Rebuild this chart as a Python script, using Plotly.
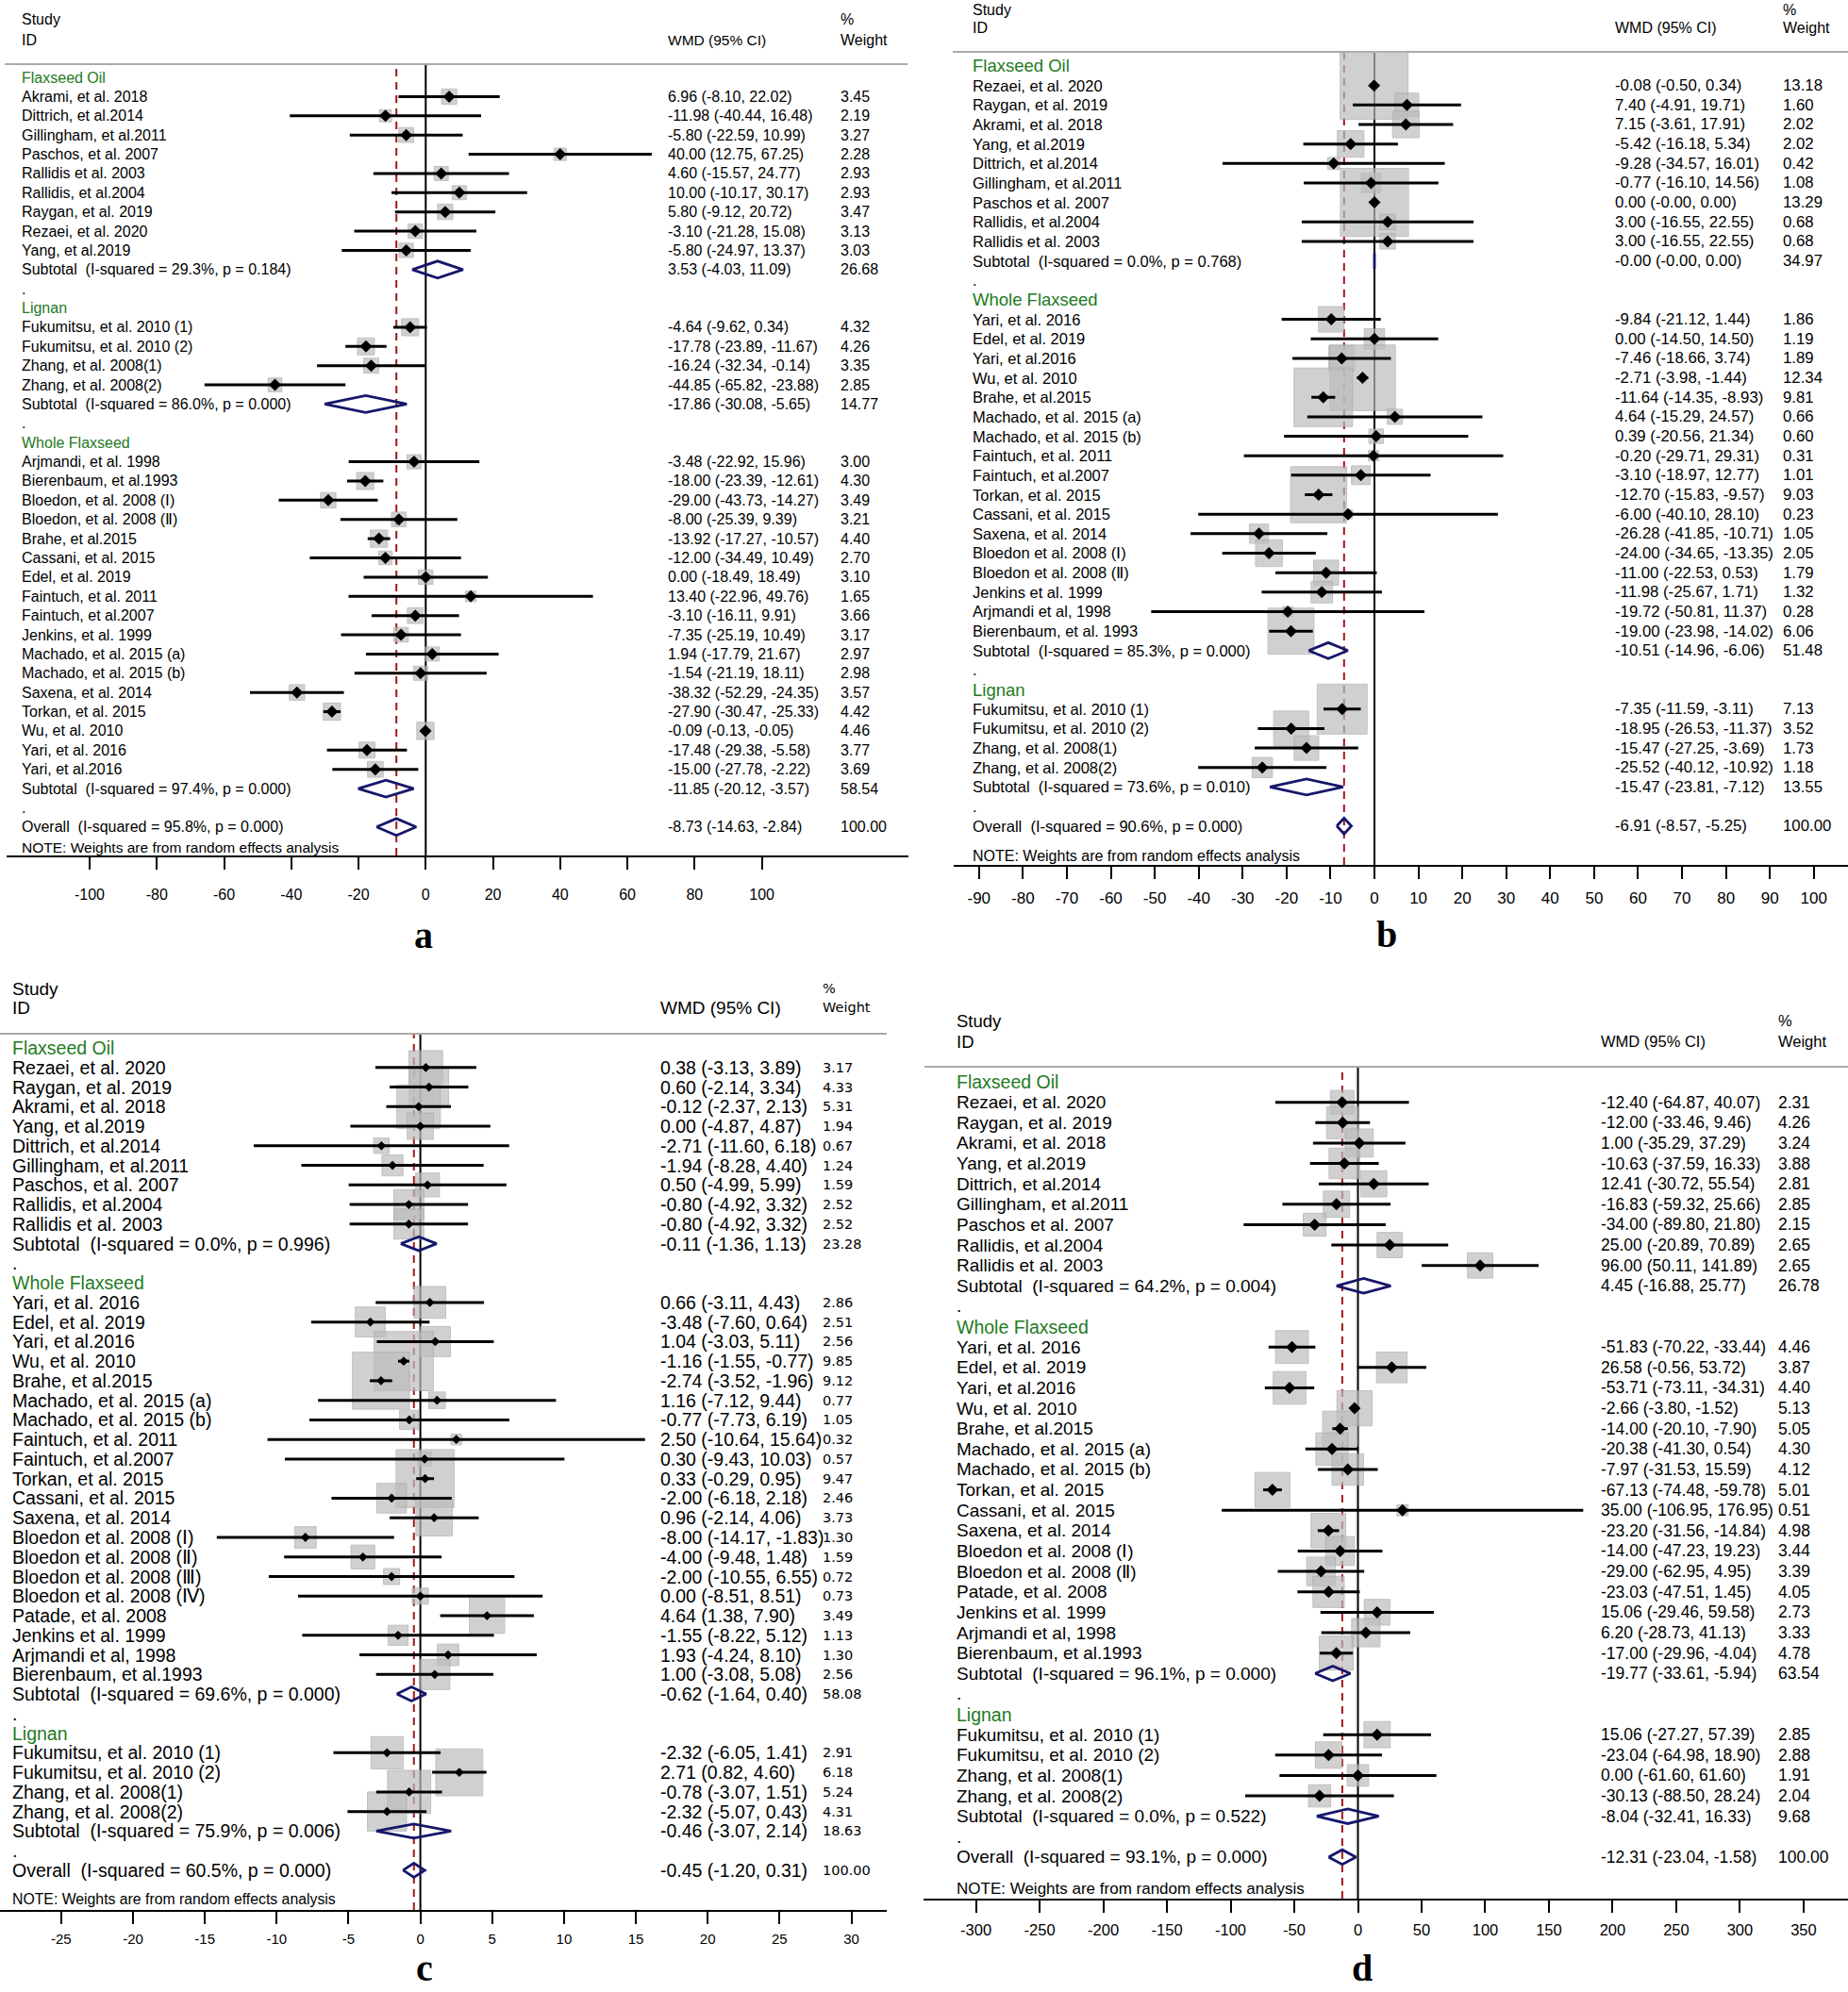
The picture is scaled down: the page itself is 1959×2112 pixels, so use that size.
import math
import plotly.graph_objects as go

W, H = 1959, 2112
SANS = "Liberation Sans, Arial, sans-serif"
WIDE = "DejaVu Sans, Verdana, sans-serif"
SERIF = "Liberation Serif, Times New Roman, serif"
GREEN = "#237a23"
NAVY = "#16166b"
DRED = "#a01818"

# ---------------- Panel a ----------------
A_GROUPS = ["Flaxseed Oil", "Lignan", "Whole Flaxseed"]
A_STUDY = ["Akrami, et al. 2018", "Dittrich, et al.2014", "Gillingham, et al.2011", "Paschos, et al. 2007",
           "Rallidis et al. 2003", "Rallidis, et al.2004", "Raygan, et al. 2019", "Rezaei, et al. 2020",
           "Yang, et al.2019",
           "Fukumitsu, et al. 2010 (1)", "Fukumitsu, et al. 2010 (2)", "Zhang, et al. 2008(1)", "Zhang, et al. 2008(2)",
           "Arjmandi, et al. 1998", "Bierenbaum, et al.1993", "Bloedon, et al. 2008 (Ⅰ)", "Bloedon, et al. 2008 (Ⅱ)",
           "Brahe, et al.2015", "Cassani, et al. 2015", "Edel, et al. 2019", "Faintuch, et al. 2011",
           "Faintuch, et al.2007", "Jenkins, et al. 1999", "Machado, et al. 2015 (a)", "Machado, et al. 2015 (b)",
           "Saxena, et al. 2014", "Torkan, et al. 2015", "Wu, et al. 2010", "Yari, et al. 2016", "Yari, et al.2016"]
A_GRP = [0, 0, 0, 0, 0, 0, 0, 0, 0,
         1, 1, 1, 1,
         2, 2, 2, 2, 2, 2, 2, 2, 2, 2, 2, 2, 2, 2, 2, 2, 2]
A_EST = [6.96, -11.98, -5.80, 40.00, 4.60, 10.00, 5.80, -3.10, -5.80,
         -4.64, -17.78, -16.24, -44.85,
         -3.48, -18.00, -29.00, -8.00, -13.92, -12.00, 0.00, 13.40, -3.10, -7.35, 1.94, -1.54,
         -38.32, -27.90, -0.09, -17.48, -15.00]
A_LO = [-8.10, -40.44, -22.59, 12.75, -15.57, -10.17, -9.12, -21.28, -24.97,
        -9.62, -23.89, -32.34, -65.82,
        -22.92, -23.39, -43.73, -25.39, -17.27, -34.49, -18.49, -22.96, -16.11, -25.19, -17.79, -21.19,
        -52.29, -30.47, -0.13, -29.38, -27.78]
A_HI = [22.02, 16.48, 10.99, 67.25, 24.77, 30.17, 20.72, 15.08, 13.37,
        0.34, -11.67, -0.14, -23.88,
        15.96, -12.61, -14.27, 9.39, -10.57, 10.49, 18.49, 49.76, 9.91, 10.49, 21.67, 18.11,
        -24.35, -25.33, -0.05, -5.58, -2.22]
A_WT = [3.45, 2.19, 3.27, 2.28, 2.93, 2.93, 3.47, 3.13, 3.03,
        4.32, 4.26, 3.35, 2.85,
        3.00, 4.30, 3.49, 3.21, 4.40, 2.70, 3.10, 1.65, 3.66, 3.17, 2.97, 2.98,
        3.57, 4.42, 4.46, 3.77, 3.69]
A_SUB_EST = [3.53, -17.86, -11.85]
A_SUB_LO = [-4.03, -30.08, -20.12]
A_SUB_HI = [11.09, -5.65, -3.57]
A_SUB_WT = [26.68, 14.77, 58.54]
A_SUB_I2 = [29.3, 86.0, 97.4]
A_SUB_P = [0.184, 0.000, 0.000]
A_OVERALL = [-8.73, -14.63, -2.84]
A_OVERALL_I2P = [95.8, 0.000]
A_TICKS = [-100, -80, -60, -40, -20, 0, 20, 40, 60, 80, 100]

# ---------------- Panel b ----------------
B_GROUPS = ["Flaxseed Oil", "Whole Flaxseed", "Lignan"]
B_STUDY = ["Rezaei, et al. 2020", "Raygan, et al. 2019", "Akrami, et al. 2018", "Yang, et al.2019",
           "Dittrich, et al.2014", "Gillingham, et al.2011", "Paschos et al. 2007", "Rallidis, et al.2004",
           "Rallidis et al. 2003",
           "Yari, et al. 2016", "Edel, et al. 2019", "Yari, et al.2016", "Wu, et al. 2010", "Brahe, et al.2015",
           "Machado, et al. 2015 (a)", "Machado, et al. 2015 (b)", "Faintuch, et al. 2011", "Faintuch, et al.2007",
           "Torkan, et al. 2015", "Cassani, et al. 2015", "Saxena, et al. 2014", "Bloedon et al. 2008 (Ⅰ)",
           "Bloedon et al. 2008 (Ⅱ)", "Jenkins et al. 1999", "Arjmandi et al, 1998", "Bierenbaum, et al. 1993",
           "Fukumitsu, et al. 2010 (1)", "Fukumitsu, et al. 2010 (2)", "Zhang, et al. 2008(1)", "Zhang, et al. 2008(2)"]
B_GRP = [0, 0, 0, 0, 0, 0, 0, 0, 0,
         1, 1, 1, 1, 1, 1, 1, 1, 1, 1, 1, 1, 1, 1, 1, 1, 1,
         2, 2, 2, 2]
B_EST = [-0.08, 7.40, 7.15, -5.42, -9.28, -0.77, 0.00, 3.00, 3.00,
         -9.84, 0.00, -7.46, -2.71, -11.64, 4.64, 0.39, -0.20, -3.10, -12.70, -6.00, -26.28, -24.00,
         -11.00, -11.98, -19.72, -19.00,
         -7.35, -18.95, -15.47, -25.52]
B_LO = [-0.50, -4.91, -3.61, -16.18, -34.57, -16.10, -0.0, -16.55, -16.55,
        -21.12, -14.50, -18.66, -3.98, -14.35, -15.29, -20.56, -29.71, -18.97, -15.83, -40.10, -41.85, -34.65,
        -22.53, -25.67, -50.81, -23.98,
        -11.59, -26.53, -27.25, -40.12]
B_HI = [0.34, 19.71, 17.91, 5.34, 16.01, 14.56, 0.00, 22.55, 22.55,
        1.44, 14.50, 3.74, -1.44, -8.93, 24.57, 21.34, 29.31, 12.77, -9.57, 28.10, -10.71, -13.35,
        0.53, 1.71, 11.37, -14.02,
        -3.11, -11.37, -3.69, -10.92]
B_WT = [13.18, 1.60, 2.02, 2.02, 0.42, 1.08, 13.29, 0.68, 0.68,
        1.86, 1.19, 1.89, 12.34, 9.81, 0.66, 0.60, 0.31, 1.01, 9.03, 0.23, 1.05, 2.05, 1.79, 1.32, 0.28, 6.06,
        7.13, 3.52, 1.73, 1.18]
B_SUB_EST = [-0.0, -10.51, -15.47]
B_SUB_LO = [-0.0, -14.96, -23.81]
B_SUB_HI = [0.00, -6.06, -7.12]
B_SUB_WT = [34.97, 51.48, 13.55]
B_SUB_I2 = [0.0, 85.3, 73.6]
B_SUB_P = [0.768, 0.000, 0.010]
B_OVERALL = [-6.91, -8.57, -5.25]
B_OVERALL_I2P = [90.6, 0.000]
B_TICKS = [-90, -80, -70, -60, -50, -40, -30, -20, -10, 0, 10, 20, 30, 40, 50, 60, 70, 80, 90, 100]

# ---------------- Panel c ----------------
C_GROUPS = ["Flaxseed Oil", "Whole Flaxseed", "Lignan"]
C_STUDY = ["Rezaei, et al. 2020", "Raygan, et al. 2019", "Akrami, et al. 2018", "Yang, et al.2019",
           "Dittrich, et al.2014", "Gillingham, et al.2011", "Paschos, et al. 2007", "Rallidis, et al.2004",
           "Rallidis et al. 2003",
           "Yari, et al. 2016", "Edel, et al. 2019", "Yari, et al.2016", "Wu, et al. 2010", "Brahe, et al.2015",
           "Machado, et al. 2015 (a)", "Machado, et al. 2015 (b)", "Faintuch, et al. 2011", "Faintuch, et al.2007",
           "Torkan, et al. 2015", "Cassani, et al. 2015", "Saxena, et al. 2014", "Bloedon et al. 2008 (Ⅰ)",
           "Bloedon et al. 2008 (Ⅱ)", "Bloedon et al. 2008 (Ⅲ)", "Bloedon et al. 2008 (Ⅳ)", "Patade, et al. 2008",
           "Jenkins et al. 1999", "Arjmandi et al, 1998", "Bierenbaum, et al.1993",
           "Fukumitsu, et al. 2010 (1)", "Fukumitsu, et al. 2010 (2)", "Zhang, et al. 2008(1)", "Zhang, et al. 2008(2)"]
C_GRP = [0, 0, 0, 0, 0, 0, 0, 0, 0,
         1, 1, 1, 1, 1, 1, 1, 1, 1, 1, 1, 1, 1, 1, 1, 1, 1, 1, 1, 1,
         2, 2, 2, 2]
C_EST = [0.38, 0.60, -0.12, 0.00, -2.71, -1.94, 0.50, -0.80, -0.80,
         0.66, -3.48, 1.04, -1.16, -2.74, 1.16, -0.77, 2.50, 0.30, 0.33, -2.00, 0.96, -8.00, -4.00, -2.00,
         0.00, 4.64, -1.55, 1.93, 1.00,
         -2.32, 2.71, -0.78, -2.32]
C_LO = [-3.13, -2.14, -2.37, -4.87, -11.60, -8.28, -4.99, -4.92, -4.92,
        -3.11, -7.60, -3.03, -1.55, -3.52, -7.12, -7.73, -10.64, -9.43, -0.29, -6.18, -2.14, -14.17, -9.48,
        -10.55, -8.51, 1.38, -8.22, -4.24, -3.08,
        -6.05, 0.82, -3.07, -5.07]
C_HI = [3.89, 3.34, 2.13, 4.87, 6.18, 4.40, 5.99, 3.32, 3.32,
        4.43, 0.64, 5.11, -0.77, -1.96, 9.44, 6.19, 15.64, 10.03, 0.95, 2.18, 4.06, -1.83, 1.48, 6.55,
        8.51, 7.90, 5.12, 8.10, 5.08,
        1.41, 4.60, 1.51, 0.43]
C_WT = [3.17, 4.33, 5.31, 1.94, 0.67, 1.24, 1.59, 2.52, 2.52,
        2.86, 2.51, 2.56, 9.85, 9.12, 0.77, 1.05, 0.32, 0.57, 9.47, 2.46, 3.73, 1.30, 1.59, 0.72, 0.73,
        3.49, 1.13, 1.30, 2.56,
        2.91, 6.18, 5.24, 4.31]
C_SUB_EST = [-0.11, -0.62, -0.46]
C_SUB_LO = [-1.36, -1.64, -3.07]
C_SUB_HI = [1.13, 0.40, 2.14]
C_SUB_WT = [23.28, 58.08, 18.63]
C_SUB_I2 = [0.0, 69.6, 75.9]
C_SUB_P = [0.996, 0.000, 0.006]
C_OVERALL = [-0.45, -1.20, 0.31]
C_OVERALL_I2P = [60.5, 0.000]
C_TICKS = [-25, -20, -15, -10, -5, 0, 5, 10, 15, 20, 25, 30]

# ---------------- Panel d ----------------
D_GROUPS = ["Flaxseed Oil", "Whole Flaxseed", "Lignan"]
D_STUDY = ["Rezaei, et al. 2020", "Raygan, et al. 2019", "Akrami, et al. 2018", "Yang, et al.2019",
           "Dittrich, et al.2014", "Gillingham, et al.2011", "Paschos et al. 2007", "Rallidis, et al.2004",
           "Rallidis et al. 2003",
           "Yari, et al. 2016", "Edel, et al. 2019", "Yari, et al.2016", "Wu, et al. 2010", "Brahe, et al.2015",
           "Machado, et al. 2015 (a)", "Machado, et al. 2015 (b)", "Torkan, et al. 2015", "Cassani, et al. 2015",
           "Saxena, et al. 2014", "Bloedon et al. 2008 (Ⅰ)", "Bloedon et al. 2008 (Ⅱ)", "Patade, et al. 2008",
           "Jenkins et al. 1999", "Arjmandi et al, 1998", "Bierenbaum, et al.1993",
           "Fukumitsu, et al. 2010 (1)", "Fukumitsu, et al. 2010 (2)", "Zhang, et al. 2008(1)", "Zhang, et al. 2008(2)"]
D_GRP = [0, 0, 0, 0, 0, 0, 0, 0, 0,
         1, 1, 1, 1, 1, 1, 1, 1, 1, 1, 1, 1, 1, 1, 1, 1,
         2, 2, 2, 2]
D_EST = [-12.40, -12.00, 1.00, -10.63, 12.41, -16.83, -34.00, 25.00, 96.00,
         -51.83, 26.58, -53.71, -2.66, -14.00, -20.38, -7.97, -67.13, 35.00, -23.20, -14.00, -29.00,
         -23.03, 15.06, 6.20, -17.00,
         15.06, -23.04, 0.00, -30.13]
D_LO = [-64.87, -33.46, -35.29, -37.59, -30.72, -59.32, -89.80, -20.89, 50.11,
        -70.22, -0.56, -73.11, -3.80, -20.10, -41.30, -31.53, -74.48, -106.95, -31.56, -47.23, -62.95,
        -47.51, -29.46, -28.73, -29.96,
        -27.27, -64.98, -61.60, -88.50]
D_HI = [40.07, 9.46, 37.29, 16.33, 55.54, 25.66, 21.80, 70.89, 141.89,
        -33.44, 53.72, -34.31, -1.52, -7.90, 0.54, 15.59, -59.78, 176.95, -14.84, 19.23, 4.95,
        1.45, 59.58, 41.13, -4.04,
        57.39, 18.90, 61.60, 28.24]
D_WT = [2.31, 4.26, 3.24, 3.88, 2.81, 2.85, 2.15, 2.65, 2.65,
        4.46, 3.87, 4.40, 5.13, 5.05, 4.30, 4.12, 5.01, 0.51, 4.98, 3.44, 3.39, 4.05, 2.73, 3.33, 4.78,
        2.85, 2.88, 1.91, 2.04]
D_SUB_EST = [4.45, -19.77, -8.04]
D_SUB_LO = [-16.88, -33.61, -32.41]
D_SUB_HI = [25.77, -5.94, 16.33]
D_SUB_WT = [26.78, 63.54, 9.68]
D_SUB_I2 = [64.2, 96.1, 0.0]
D_SUB_P = [0.004, 0.000, 0.522]
D_OVERALL = [-12.31, -23.04, -1.58]
D_OVERALL_I2P = [93.1, 0.000]
D_TICKS = [-300, -250, -200, -150, -100, -50, 0, 50, 100, 150, 200, 250, 300, 350]

NOTE = "NOTE: Weights are from random effects analysis"
PANEL_LABELS = ["a", "b", "c", "d"]

DATA = [
    (A_GROUPS, A_STUDY, A_GRP, A_EST, A_LO, A_HI, A_WT, A_SUB_EST, A_SUB_LO, A_SUB_HI, A_SUB_WT, A_SUB_I2, A_SUB_P,
     A_OVERALL, A_OVERALL_I2P, A_TICKS),
    (B_GROUPS, B_STUDY, B_GRP, B_EST, B_LO, B_HI, B_WT, B_SUB_EST, B_SUB_LO, B_SUB_HI, B_SUB_WT, B_SUB_I2, B_SUB_P,
     B_OVERALL, B_OVERALL_I2P, B_TICKS),
    (C_GROUPS, C_STUDY, C_GRP, C_EST, C_LO, C_HI, C_WT, C_SUB_EST, C_SUB_LO, C_SUB_HI, C_SUB_WT, C_SUB_I2, C_SUB_P,
     C_OVERALL, C_OVERALL_I2P, C_TICKS),
    (D_GROUPS, D_STUDY, D_GRP, D_EST, D_LO, D_HI, D_WT, D_SUB_EST, D_SUB_LO, D_SUB_HI, D_SUB_WT, D_SUB_I2, D_SUB_P,
     D_OVERALL, D_OVERALL_I2P, D_TICKS),
]

# layout (pixel) settings per panel
STYLE = [
    dict(xl=7, xr=963, zero=451.3, ppu=3.563, axis_y=907, head_y=68, row0=82, dy=20.38,
         c_name=21, c_val=706, c_wt=889, hl=(5, 962), study_y=21, id_y=42, note_y=898,
         lab=(449, 991, "middle"),
         f_name=16, f_grp=16, f_val=16, f_wt=16, wt_font=SANS, f_hdr=16, f_wmd=15.5, f_pct=16, pct_font=SANS,
         f_note=15.5, f_tick=16, box_k=8.7, dia=10, ci_w=3, sub_h=0.44, standoff=13),
    dict(xl=1011, xr=1959, zero=1457, ppu=4.658, axis_y=917, head_y=55, row0=70, dy=20.66,
         c_name=1029, c_val=1710, c_wt=1888, hl=(1010, 1959), study_y=10, id_y=30, note_y=907,
         lab=(1470, 990, "middle"),
         f_name=16.5, f_grp=18.5, f_val=16.8, f_wt=16.8, wt_font=SANS, f_hdr=16, f_wmd=16, f_pct=16, pct_font=SANS,
         f_note=16, f_tick=17, box_k=19.8, dia=10, ci_w=3, sub_h=0.41, standoff=6),
    dict(xl=0, xr=940, zero=445.6, ppu=15.23, axis_y=2025, head_y=1096, row0=1111, dy=20.76,
         c_name=11, c_val=698, c_wt=870, hl=(0, 940), study_y=1048, id_y=1068, note_y=2013,
         lab=(450, 2111, "bottom"),
         f_name=19.5, f_grp=19.5, f_val=19.5, f_wt=14.5, wt_font=WIDE, f_hdr=19, f_wmd=19, f_pct=14.5, pct_font=WIDE,
         f_note=15.8, f_tick=15, box_k=20, dia=7.5, ci_w=3, sub_h=0.36, standoff=3),
    dict(xl=979, xr=1959, zero=1439.5, ppu=1.3497, axis_y=2013, head_y=1131, row0=1147, dy=21.63,
         c_name=1012, c_val=1695, c_wt=1883, hl=(980, 1959), study_y=1082, id_y=1104, note_y=2002,
         lab=(1444, 2111, "bottom"),
         f_name=19, f_grp=19.5, f_val=17.5, f_wt=17.5, wt_font=SANS, f_hdr=18.5, f_wmd=16.5, f_pct=16.5,
         pct_font=SANS, f_note=17, f_tick=16.5, box_k=16.5, dia=10, ci_w=3, sub_h=0.36, standoff=4),
]


def build_rows(d):
    (groups, study, grp, est, lo, hi, wt, s_est, s_lo, s_hi, s_wt, s_i2, s_p, ov, ov_i2p, _t) = d
    rows = []
    r = 0
    for g, name in enumerate(groups):
        rows.append(dict(r=r, kind="group", label=name))
        r += 1
        for i in range(len(study)):
            if grp[i] == g:
                rows.append(dict(r=r, kind="study", label=study[i], est=est[i], lo=lo[i], hi=hi[i], wt=wt[i]))
                r += 1
        rows.append(dict(r=r, kind="sub",
                         label="Subtotal\u00a0 (I-squared = %.1f%%, p = %.3f)" % (s_i2[g], s_p[g]),
                         est=s_est[g], lo=s_lo[g], hi=s_hi[g], wt=s_wt[g]))
        r += 1
        rows.append(dict(r=r, kind="dot", label="."))
        r += 1
    rows.append(dict(r=r, kind="sub",
                     label="Overall\u00a0 (I-squared = %.1f%%, p = %.3f)" % (ov_i2p[0], ov_i2p[1]),
                     est=ov[0], lo=ov[1], hi=ov[2], wt=100.0))
    return rows


fig = go.Figure()
annotations = []
shapes = []
layout_axes = {}


def fmt(v):
    return "%.2f" % v


for i, (d, S) in enumerate(zip(DATA, STYLE)):
    n = "" if i == 0 else str(i + 1)
    xa, ya = "x" + n, "y" + n
    ticks = d[-1]
    overall = d[13]
    rows = build_rows(d)

    r_axis = (S["axis_y"] - S["row0"]) / S["dy"]
    r_head = (S["head_y"] - S["row0"]) / S["dy"]
    x0 = (S["xl"] - S["zero"]) / S["ppu"]
    x1 = (S["xr"] - S["zero"]) / S["ppu"]

    layout_axes["xaxis" + n] = dict(
        domain=[S["xl"] / W, S["xr"] / W], range=[x0, x1], anchor=ya,
        showline=True, linecolor="black", linewidth=2, ticks="outside", ticklen=13, tickwidth=2,
        tickcolor="black", tickvals=ticks, ticktext=[str(t) for t in ticks],
        tickfont=dict(family=SANS, size=S["f_tick"], color="black"), showgrid=False, zeroline=False,
        fixedrange=True, ticklabelstandoff=S["standoff"])
    layout_axes["yaxis" + n] = dict(
        domain=[1 - S["axis_y"] / H, 1 - S["head_y"] / H], range=[r_axis, r_head], anchor=xa,
        visible=False, showgrid=False, zeroline=False, fixedrange=True)

    # reference lines
    shapes.append(dict(type="line", xref=xa, yref=ya + " domain", x0=0, x1=0, y0=0, y1=1,
                       line=dict(color="black", width=2), layer="below"))
    shapes.append(dict(type="line", xref=xa, yref=ya + " domain", x0=overall[0], x1=overall[0], y0=0, y1=1,
                       line=dict(color=DRED, width=2, dash="8px,6px"), layer="below"))
    shapes.append(dict(type="line", xref="paper", yref="paper", x0=S["hl"][0] / W, x1=S["hl"][1] / W,
                       y0=1 - S["head_y"] / H, y1=1 - S["head_y"] / H,
                       line=dict(color="#a9a9a9", width=2), layer="below"))

    studies = [r for r in rows if r["kind"] == "study"]
    subs = [r for r in rows if r["kind"] == "sub"]

    # weight boxes
    fig.add_trace(go.Scatter(
        x=[r["est"] for r in studies], y=[r["r"] for r in studies], mode="markers",
        marker=dict(symbol="square", size=[S["box_k"] * math.sqrt(r["wt"]) for r in studies],
                    color="#bdbdbd", line=dict(color="#a6a6a6", width=1)),
        xaxis=xa, yaxis=ya, cliponaxis=False, hoverinfo="skip", showlegend=False))
    # CI lines
    cx, cy = [], []
    for r in studies:
        cx += [r["lo"], r["hi"], None]
        cy += [r["r"], r["r"], None]
    fig.add_trace(go.Scatter(x=cx, y=cy, mode="lines", line=dict(color="black", width=S["ci_w"]),
                             xaxis=xa, yaxis=ya, cliponaxis=False, hoverinfo="skip", showlegend=False))
    # point estimates
    fig.add_trace(go.Scatter(
        x=[r["est"] for r in studies], y=[r["r"] for r in studies], mode="markers",
        marker=dict(symbol="diamond", size=S["dia"], color="black"),
        xaxis=xa, yaxis=ya, cliponaxis=False, hoverinfo="skip", showlegend=False))
    # subtotal / overall diamonds
    dx, dyy = [], []
    h = S["sub_h"]
    for r in subs:
        dx += [r["lo"], r["est"], r["hi"], r["est"], r["lo"], None]
        dyy += [r["r"], r["r"] - h, r["r"], r["r"] + h, r["r"], None]
    fig.add_trace(go.Scatter(x=dx, y=dyy, mode="lines", line=dict(color=NAVY, width=2.8),
                             xaxis=xa, yaxis=ya, cliponaxis=False, hoverinfo="skip", showlegend=False))

    # text columns
    for r in rows:
        if r["kind"] == "group":
            annotations.append(dict(x=S["c_name"] / W, xref="paper", y=r["r"], yref=ya, text=r["label"],
                                    showarrow=False, xanchor="left", yanchor="middle",
                                    font=dict(family=SANS, size=S["f_grp"], color=GREEN)))
            continue
        annotations.append(dict(x=S["c_name"] / W, xref="paper", y=r["r"], yref=ya, text=r["label"],
                                showarrow=False, xanchor="left", yanchor="middle",
                                font=dict(family=SANS, size=S["f_name"], color="black")))
        if r["kind"] in ("study", "sub"):
            annotations.append(dict(x=S["c_val"] / W, xref="paper", y=r["r"], yref=ya,
                                    text="%s (%s, %s)" % (fmt(r["est"]), fmt(r["lo"]), fmt(r["hi"])),
                                    showarrow=False, xanchor="left", yanchor="middle",
                                    font=dict(family=SANS, size=S["f_val"], color="black")))
            annotations.append(dict(x=S["c_wt"] / W, xref="paper", y=r["r"], yref=ya, text=fmt(r["wt"]),
                                    showarrow=False, xanchor="left", yanchor="middle",
                                    font=dict(family=S["wt_font"], size=S["f_wt"], color="black")))

    # headers
    def hdr(txt, px, py, size, fam=SANS):
        annotations.append(dict(x=px / W, xref="paper", y=1 - py / H, yref="paper", text=txt, showarrow=False,
                                xanchor="left", yanchor="middle", font=dict(family=fam, size=size, color="black")))

    hdr("Study", S["c_name"], S["study_y"], S["f_hdr"])
    hdr("ID", S["c_name"], S["id_y"], S["f_hdr"])
    hdr("WMD (95% CI)", S["c_val"], S["id_y"], S["f_wmd"])
    hdr("%", S["c_wt"], S["study_y"], S["f_pct"], S["pct_font"])
    hdr("Weight", S["c_wt"], S["id_y"], S["f_pct"], S["pct_font"])
    hdr(NOTE, S["c_name"], S["note_y"], S["f_note"])

    annotations.append(dict(x=S["lab"][0] / W, xref="paper", y=1 - S["lab"][1] / H, yref="paper",
                            text="<b>%s</b>" % PANEL_LABELS[i], showarrow=False, xanchor="center",
                            yanchor=S["lab"][2], font=dict(family=SERIF, size=40, color="black")))

fig.update_layout(
    width=W, height=H, margin=dict(l=0, r=0, t=0, b=0, pad=0),
    paper_bgcolor="white", plot_bgcolor="white", showlegend=False,
    annotations=annotations, shapes=shapes, **layout_axes)

fig.write_html("out.html", config={"displayModeBar": False, "staticPlot": True},
               post_script="document.body.style.margin='0px';document.body.style.padding='0px';"
                           "document.documentElement.style.overflow='hidden';")
